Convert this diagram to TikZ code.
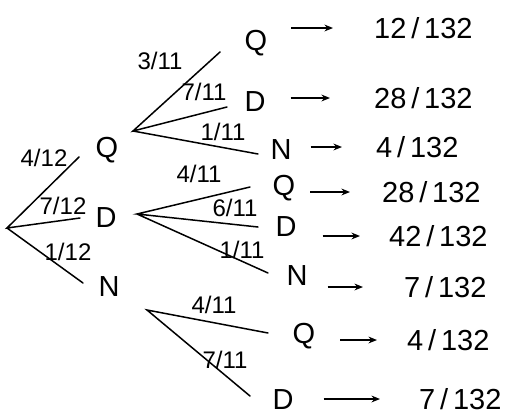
\documentclass[tikz,border=0pt]{standalone}
\usepackage{fontspec}
\setmainfont{Liberation Sans}
\usetikzlibrary{arrows.meta}
\tikzset{
  branch/.style={line width=1.5pt, line cap=round},
  pick/.style={font=\fontsize{29}{31}\selectfont, inner sep=2pt},
  odds/.style={font=\fontsize{24}{26}\selectfont, inner sep=1pt},
  total/.style={font=\fontsize{29}{31}\selectfont, anchor=west, inner sep=2pt},
  outcome/.style={-{Stealth[length=3mm, width=2.4mm]}, line width=1.4pt},
}
\begin{document}
\begin{tikzpicture}[x=1pt, y=-1pt]
  \useasboundingbox (0,0) rectangle (518,418);
  % first coin
  \coordinate (r0) at (7,228);
  \coordinate (r0q) at (79,157);
  \coordinate (r0d) at (80,218);
  \coordinate (r0n) at (83,283);
  \draw[branch] (r0q) -- (r0) -- (r0d) (r0) -- (r0n);
  \node[odds] (l0q) at (44,158) {4/12};
  \node[odds] (l0d) at (63,206) {7/12};
  \node[odds] (l0n) at (68,252) {1/12};
  \node[pick] (q0) at (107,150) {Q};
  \node[pick] (d0) at (106,218) {D};
  \node[pick] (n0) at (109,287) {N};
  % second coin, after Q
  \coordinate (r1) at (133,131);
  \coordinate (r1q) at (220,52);
  \coordinate (r1d) at (227,107);
  \coordinate (r1n) at (258,154);
  \draw[branch] (r1q) -- (r1) -- (r1d) (r1) -- (r1n);
  \node[odds] (l1q) at (160,61) {3/11};
  \node[odds] (l1d) at (204,92) {7/11};
  \node[odds] (l1n) at (223,132) {1/11};
  % second coin, after D
  \coordinate (r2) at (137,214);
  \coordinate (r2q) at (250,187);
  \coordinate (r2d) at (258,227);
  \coordinate (r2n) at (268,273);
  \draw[branch] (r2q) -- (r2) -- (r2d) (r2) -- (r2n);
  \node[odds] (l2q) at (199,174) {4/11};
  \node[odds] (l2d) at (235,208) {6/11};
  \node[odds] (l2n) at (242,250) {1/11};
  % second coin, after N
  \coordinate (r3) at (147,310);
  \coordinate (r3q) at (268,333);
  \coordinate (r3d) at (250,396);
  \draw[branch] (r3q) -- (r3) -- (r3d);
  \node[odds] (l3q) at (214,305) {4/11};
  \node[odds] (l3d) at (225,360) {7/11};
  % outcomes
  \node[pick] (q1) at (256,43) {Q};
  \node[pick] (d1) at (255,102) {D};
  \node[pick] (n1) at (281,150) {N};
  \node[pick] (q2) at (284,188) {Q};
  \node[pick] (d2) at (286,227) {D};
  \node[pick] (n2) at (297,276) {N};
  \node[pick] (q3) at (304,336) {Q};
  \node[pick] (d3) at (283,400) {D};
  \foreach \leaf/\i/\x/\y/\n/\sa/\sb in {q1/1/372/28/12/22/39, d1/2/372/98/28/23/42,
      n1/3/374/147/4/17/32, q2/4/380/192/28/13/30, d2/5/387/236/42/24/27,
      n2/6/402/287/7/18/39, q3/7/405/340/4/23/28, d3/8/417/399/7/28/37}
    { \node[total] (p\i) at (\x,\y) {\n\,/\,132};
      \draw[outcome, shorten <=\sa pt, shorten >=\sb pt] (\leaf.east |- p\i.west) -- (p\i.west); }
\end{tikzpicture}
\end{document}
